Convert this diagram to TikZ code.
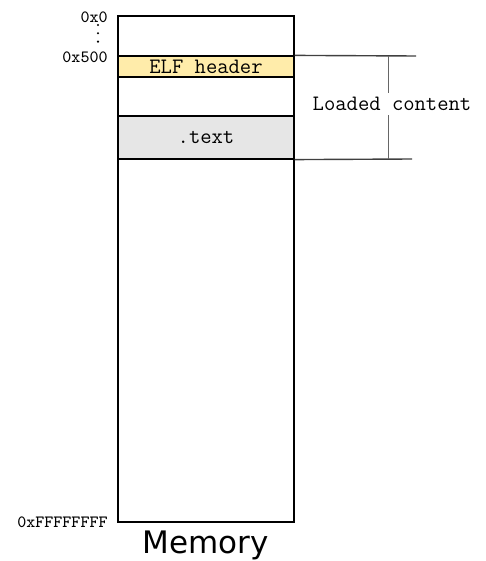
\documentclass[tikz,border=0pt]{standalone}
\usepackage{fontspec}
\newfontfamily\memfont{DejaVu Sans}
\usetikzlibrary{positioning}
\definecolor{elfyellow}{RGB}{255,236,170}
\definecolor{textgray}{RGB}{230,230,230}
\tikzset{
    membox/.style={draw, line width=1pt, minimum width=88pt, minimum height=253pt, inner sep=0pt},
    section/.style={draw, line width=0.6pt, minimum width=88pt, inner sep=0pt, font=\fontsize{11}{13}\ttfamily},
    addr/.style={anchor=east, inner sep=0pt, font=\fontsize{8.6}{10}\ttfamily},
    marker/.style={draw=black!75, line width=0.7pt},
    brace/.style={draw=black!60, line width=0.5pt},
    dotmark/.style={fill=black, inner sep=0pt, minimum size=1.2pt, circle}
}

\begin{document}
\begin{tikzpicture}[x=0.5pt, y=-0.5pt]
\useasboundingbox (0,0) rectangle (486,561);
% memory column
\node[membox] (mem) at (206,269) {};
\node[section, fill=elfyellow, minimum height=10.5pt] (elf) at (206,66.5) {ELF header};
\node[section, fill=textgray, minimum height=21.5pt] (text) at (206,137.5) {.text};
\node[font=\fontsize{15.5}{18}\memfont, anchor=base] (memlabel) at (206,553) {Memory};
% addresses
\node[addr] (a0) at (108,17) {0x0};
\foreach \y in {25,33.3,41.6}
    \fill (98,\y) circle (0.6pt);
\node[addr] (a500) at (108,57.5) {0x500};
\node[addr] (aend) at (108,522) {0xFFFFFFFF};
% loaded region
\coordinate (topend) at (416,56);
\coordinate (botend) at (412,159);
\coordinate (bracetop) at (388,56);
\coordinate (bracebot) at (388,159);
\draw[marker] (elf.north east) -- (topend);
\draw[marker] (text.south east) -- (botend);
\draw[brace] (bracetop) -- (bracebot);
\node[fill=white, inner sep=2pt, font=\fontsize{11}{13}\ttfamily] (loaded) at (392,104) {Loaded content};
\end{tikzpicture}
\end{document}
